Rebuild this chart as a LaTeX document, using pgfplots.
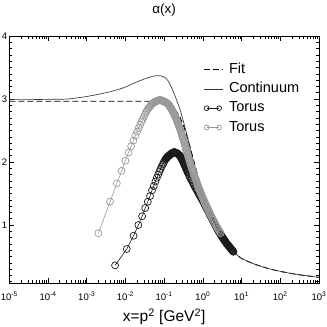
\documentclass[border=0pt]{standalone}
\usepackage{fontspec}
\setmainfont{Liberation Sans}
\usepackage{pgfplots}
\pgfplotsset{compat=1.18}
\definecolor{contc}{HTML}{383838}
\definecolor{torb}{HTML}{1A1A1A}
\definecolor{torg}{HTML}{999999}
\pgfplotsset{
  lineleg/.style={legend image code/.code={\draw[##1] (0pt,0pt) -- (19pt,0pt);}},
  markleg/.style={legend image code/.code={\draw[##1, mark size=2.4pt] plot coordinates {(3pt,0pt) (15.5pt,0pt)};}},
}
\begin{document}
\begin{tikzpicture}
\begin{axis}[
  width=309.7pt, height=247pt, scale only axis,
  xmode=log, xmin=1e-5, xmax=1e3, ymin=0.08, ymax=4,
  xtick={1e-5,1e-4,1e-3,1e-2,1e-1,1,10,100,1000},
  xticklabels={10\textsuperscript{-5},10\textsuperscript{-4},10\textsuperscript{-3},10\textsuperscript{-2},10\textsuperscript{-1},10\textsuperscript{0},10\textsuperscript{1},10\textsuperscript{2},10\textsuperscript{3}},
  minor xtick={2e-5,3e-5,4e-5,5e-5,6e-5,7e-5,8e-5,9e-5,2e-4,3e-4,4e-4,5e-4,6e-4,7e-4,8e-4,9e-4,2e-3,3e-3,4e-3,5e-3,6e-3,7e-3,8e-3,9e-3,0.02,0.03,0.04,0.05,0.06,0.07,0.08,0.09,0.2,0.3,0.4,0.5,0.6,0.7,0.8,0.9,2,3,4,5,6,7,8,9,20,30,40,50,60,70,80,90,200,300,400,500,600,700,800,900},
  ytick={1,2,3,4}, yticklabels={1,2,3,4},
  minor ytick={0.1,0.2,...,4},
  tick align=inside, xtick pos=both, ytick pos=both,
  xticklabel pos=lower, yticklabel pos=left,
  major tick length=5pt, minor tick length=2.7pt,
  tick style={line width=0.5pt, black},
  axis line style={line width=0.6pt},
  xticklabel style={font=\fontsize{9.5}{11}\selectfont, anchor=base, yshift=-17pt},
  yticklabel style={font=\fontsize{9.5}{11}\selectfont, inner sep=1pt, xshift=-1pt},
  xlabel={x=p\textsuperscript{2} [GeV\textsuperscript{2}]},
  xlabel style={font=\fontsize{15.5}{17}\selectfont, at={(0.5,0)}, anchor=base, yshift=-38.5pt},
  legend style={draw=none, fill=none, at={(0.6254,0.892)}, anchor=north west,
    font=\fontsize{14.5}{16}\selectfont, inner sep=0pt,
    nodes={inner sep=0pt, text height=10.5pt, text depth=3pt},
    row sep=5.8pt},
  legend cell align=left,
  /tikz/every odd column/.append style={column sep=6pt},
]
\coordinate (O) at (rel axis cs:0,0);
\coordinate (T) at (rel axis cs:0.5,1);
% Fit
\addplot[black, line width=0.9pt, dash pattern=on 6pt off 3pt, smooth, lineleg]
coordinates {(1e-5,2.965)(1e-3,2.965)(0.05,2.965)(0.0631,2.965)(0.07943,2.963)(0.1,2.96)(0.1259,2.94)(0.1585,2.90)(0.1995,2.82)(0.2512,2.72)(0.3162,2.58)(0.3981,2.39)(0.5012,2.17)(0.6310,1.94)(0.7943,1.72)(1,1.52)(1.259,1.34)(1.585,1.18)(1.995,1.05)(2.512,0.94)(3.162,0.84)(3.981,0.75)(5.012,0.66)(6.310,0.58)(7.943,0.52)(10,0.47)(17.78,0.40)(31.62,0.345)(56.23,0.30)(100,0.265)(177.8,0.235)(316.2,0.21)(562.3,0.19)(1000,0.17)};
\addlegendentry{Fit}
% Continuum
\addplot[contc, line width=0.65pt, smooth, lineleg]
coordinates {(1e-5,2.99)(3.162e-5,2.99)(1e-4,2.995)(3.162e-4,3.00)(1e-3,3.04)(3.162e-3,3.10)(5.623e-3,3.14)(0.01,3.19)(0.01778,3.26)(0.03162,3.32)(0.05012,3.36)(0.06310,3.37)(0.07943,3.37)(0.1,3.35)(0.1259,3.29)(0.1585,3.17)(0.1995,3.02)(0.2512,2.85)(0.3162,2.64)(0.3981,2.40)(0.5012,2.14)(0.6310,1.91)(0.7943,1.71)(1,1.52)(1.259,1.35)(1.585,1.20)(1.995,1.07)(2.512,0.95)(3.162,0.85)(3.981,0.75)(5.012,0.66)(6.310,0.575)(7.943,0.515)(10,0.47)(17.78,0.40)(31.62,0.345)(56.23,0.30)(100,0.265)(177.8,0.235)(316.2,0.21)(562.3,0.19)(1000,0.17)};
\addlegendentry{Continuum}
% Torus (black)
\addplot[torb, line width=0.6pt, mark=o, mark size=3.5pt, mark options={line width=0.7pt}, markleg]
coordinates {(0.0054,0.36)(0.0108,0.62)(0.0162,0.83)(0.0216,1.00)(0.0270,1.14)(0.0324,1.27)(0.0378,1.37)(0.0432,1.46)(0.0486,1.55)(0.054,1.62)(0.0594,1.69)(0.0648,1.75)(0.0702,1.80)(0.0756,1.85)(0.081,1.89)(0.0864,1.93)(0.0918,1.96)(0.0972,1.99)(0.1026,2.02)(0.108,2.04)
(0.1122,2.055)(0.1148,2.063)(0.1175,2.07)(0.1202,2.078)(0.1230,2.085)(0.1259,2.09)(0.1288,2.095)(0.1318,2.10)(0.1349,2.105)(0.1380,2.11)(0.1413,2.115)(0.1445,2.12)(0.1479,2.125)(0.1514,2.13)(0.1549,2.135)(0.1585,2.138)(0.1622,2.14)(0.1660,2.145)(0.1698,2.15)(0.1738,2.153)(0.1778,2.155)(0.1820,2.155)(0.1862,2.155)(0.1905,2.153)(0.1950,2.15)(0.1995,2.148)(0.2042,2.145)(0.2089,2.143)(0.2138,2.14)(0.2188,2.135)(0.2239,2.13)(0.2291,2.125)(0.2344,2.12)(0.2399,2.115)(0.2455,2.11)(0.2512,2.103)(0.2570,2.095)(0.2630,2.085)(0.2692,2.075)(0.2754,2.065)(0.2818,2.055)(0.2884,2.043)(0.2951,2.03)(0.3020,2.018)(0.3090,2.005)(0.3162,1.99)(0.3236,1.975)(0.3311,1.963)(0.3388,1.95)(0.3467,1.935)(0.3548,1.92)(0.3631,1.905)(0.3715,1.89)(0.3802,1.878)(0.3890,1.865)(0.3981,1.85)
(0.4074,1.835)(0.4266,1.805)(0.4467,1.78)(0.4677,1.75)(0.4898,1.73)(0.5129,1.71)(0.5370,1.685)(0.5623,1.66)(0.5888,1.635)(0.6166,1.61)(0.6457,1.59)(0.6761,1.565)(0.7079,1.545)(0.7413,1.52)(0.7762,1.50)(0.8128,1.48)(0.8511,1.455)(0.8913,1.435)(0.9333,1.415)(0.9772,1.39)(1.023,1.37)(1.072,1.345)(1.122,1.32)(1.175,1.295)(1.230,1.27)(1.288,1.25)(1.349,1.225)(1.413,1.20)(1.479,1.175)(1.549,1.15)(1.622,1.13)(1.698,1.105)(1.778,1.08)(1.862,1.055)(1.950,1.03)(2.042,1.01)(2.138,0.985)(2.239,0.965)(2.344,0.94)(2.455,0.92)
(2.512,0.91)(2.570,0.90)(2.630,0.89)(2.692,0.88)(2.754,0.87)(2.818,0.86)(2.884,0.85)(2.951,0.84)(3.020,0.83)(3.090,0.82)(3.162,0.81)(3.236,0.80)(3.311,0.79)(3.388,0.78)(3.467,0.773)(3.548,0.765)(3.631,0.755)(3.715,0.745)(3.802,0.738)(3.890,0.73)(3.981,0.72)(4.074,0.71)(4.169,0.703)(4.266,0.695)(4.365,0.688)(4.467,0.68)(4.571,0.673)(4.677,0.665)(4.786,0.658)(4.898,0.65)(5.012,0.643)(5.129,0.635)(5.248,0.628)(5.370,0.62)(5.495,0.613)(5.623,0.605)(5.754,0.598)(5.888,0.59)(6.026,0.583)(6.166,0.575)};
\addlegendentry{Torus}
% Torus (gray)
\addplot[torg, line width=0.6pt, mark=o, mark size=3.5pt, mark options={line width=0.7pt}, markleg]
coordinates {(0.002,0.87)(0.004,1.37)(0.006,1.66)(0.008,1.86)(0.010,2.02)(0.012,2.15)(0.014,2.25)(0.016,2.34)(0.018,2.42)(0.020,2.48)(0.022,2.54)(0.024,2.59)(0.026,2.64)(0.028,2.68)(0.030,2.72)(0.032,2.755)(0.034,2.79)(0.036,2.815)(0.038,2.84)(0.040,2.86)(0.042,2.875)(0.044,2.89)(0.046,2.905)(0.048,2.92)(0.050,2.928)(0.052,2.935)(0.054,2.943)(0.056,2.95)(0.058,2.955)(0.060,2.96)(0.062,2.965)(0.064,2.97)(0.066,2.973)(0.068,2.975)(0.070,2.978)(0.072,2.98)(0.074,2.98)(0.076,2.98)(0.078,2.98)(0.080,2.98)
(0.08128,2.98)(0.08318,2.98)(0.08511,2.978)(0.08710,2.975)(0.08913,2.973)(0.09120,2.97)(0.09333,2.968)(0.09550,2.965)(0.09772,2.963)(0.1,2.96)(0.1023,2.958)(0.1047,2.955)(0.1072,2.95)(0.1096,2.945)(0.1122,2.943)(0.1148,2.94)(0.1175,2.935)(0.1202,2.93)(0.1230,2.925)(0.1259,2.92)(0.1288,2.913)(0.1318,2.905)(0.1349,2.898)(0.1380,2.89)(0.1413,2.88)(0.1445,2.87)(0.1479,2.86)(0.1514,2.85)(0.1549,2.84)(0.1585,2.83)(0.1622,2.818)(0.1660,2.805)(0.1698,2.793)(0.1738,2.78)(0.1778,2.768)(0.1820,2.755)(0.1862,2.743)(0.1905,2.73)(0.1950,2.715)(0.1995,2.70)(0.2042,2.685)(0.2089,2.67)(0.2138,2.655)(0.2188,2.64)(0.2239,2.625)(0.2291,2.61)(0.2344,2.593)(0.2399,2.575)(0.2455,2.558)(0.2512,2.54)(0.2570,2.523)(0.2630,2.505)(0.2692,2.488)(0.2754,2.47)(0.2818,2.45)(0.2884,2.43)(0.2951,2.41)(0.3020,2.39)(0.3090,2.37)(0.3162,2.35)(0.3236,2.33)(0.3311,2.31)(0.3388,2.288)(0.3467,2.265)(0.3548,2.243)(0.3631,2.22)(0.3715,2.198)(0.3802,2.175)(0.3890,2.153)(0.3981,2.13)(0.4074,2.11)(0.4169,2.09)(0.4266,2.07)(0.4365,2.05)(0.4467,2.03)(0.4571,2.01)(0.4677,1.99)(0.4786,1.97)(0.4898,1.95)(0.5012,1.93)(0.5129,1.913)(0.5248,1.895)(0.5370,1.878)(0.5495,1.86)(0.5623,1.84)(0.5754,1.82)(0.5888,1.803)(0.6026,1.785)(0.6166,1.768)(0.6310,1.75)(0.6457,1.733)(0.6607,1.715)(0.6761,1.698)(0.6918,1.68)(0.7079,1.663)(0.7244,1.645)(0.7413,1.628)(0.7586,1.61)(0.7762,1.595)(0.7943,1.58)(0.8128,1.565)(0.8318,1.55)(0.8511,1.535)(0.8710,1.52)(0.8913,1.505)(0.9120,1.49)(0.9333,1.475)(0.9550,1.46)(0.9772,1.445)(1.000,1.43)(1.023,1.415)(1.047,1.40)(1.072,1.385)(1.096,1.37)(1.122,1.358)(1.148,1.345)(1.175,1.33)(1.202,1.315)(1.230,1.303)(1.259,1.29)(1.288,1.278)(1.318,1.265)(1.349,1.253)(1.380,1.24)(1.413,1.225)(1.445,1.21)(1.479,1.198)(1.514,1.185)(1.549,1.173)(1.585,1.16)
(1.660,1.135)(1.738,1.11)(1.820,1.09)(1.905,1.065)(1.995,1.04)(2.089,1.02)(2.188,0.995)(2.291,0.975)(2.399,0.95)(2.512,0.93)(2.630,0.91)(2.754,0.89)(2.884,0.87)};
\addlegendentry{Torus}
\end{axis}
\node[font=\fontsize{13.5}{15}\selectfont, anchor=base] at ([yshift=23pt]T) {α(x)};
\pgfresetboundingbox
\path[use as bounding box] ([xshift=-9.3pt,yshift=-44pt]O) rectangle ++(327pt,327pt);
\end{tikzpicture}
\end{document}
